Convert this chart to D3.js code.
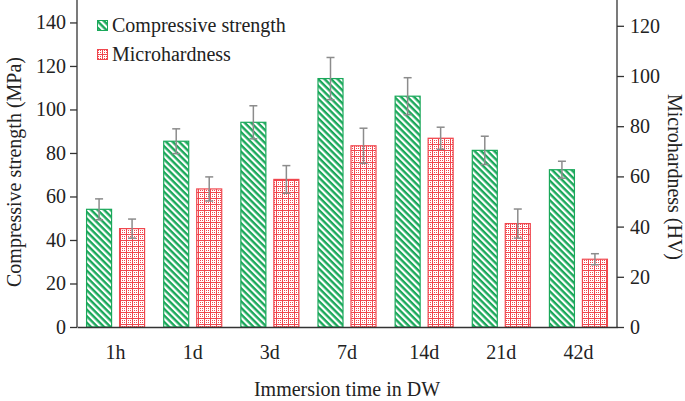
<!DOCTYPE html>
<html><head><meta charset="utf-8">
<script src="https://cdn.jsdelivr.net/npm/d3@7"></script>
<style>body{margin:0;background:#fff}svg{display:block}</style>
</head><body>
<svg id="c" width="685" height="401"></svg>
<script>
const categories = ["1h","1d","3d","7d","14d","21d","42d"];
const strength = [54.1, 85.4, 94.1, 114.2, 106.1, 81.2, 72.3];
const strengthErr = [4.8, 5.7, 7.6, 9.7, 8.5, 6.5, 3.9];
const hardness = [39.2, 55.0, 58.8, 72.2, 75.2, 41.2, 27.0];
const hardnessErr = [3.8, 4.8, 5.5, 7.0, 4.4, 5.8, 2.2];
const leftTicks = [0,20,40,60,80,100,120,140];
const rightTicks = [0,20,40,60,80,100,120];

const svg = d3.select("#c");
const font = "Liberation Serif";
const green = "#1aa85a", red = "#f0474e";
const X0 = 77, X1 = 617, Y0 = 327, Y1 = 0.7;
const fs = 20;

const defs = svg.append("defs");
const pg = defs.append("pattern").attr("id","pg").attr("patternUnits","userSpaceOnUse")
  .attr("width",4.6).attr("height",4.6).attr("patternTransform","rotate(45)");
pg.append("rect").attr("width",4.6).attr("height",4.6).attr("fill","#fff");
pg.append("rect").attr("width",4.6).attr("height",2.4).attr("fill",green);
const pr = defs.append("pattern").attr("id","pr").attr("patternUnits","userSpaceOnUse")
  .attr("width",6).attr("height",6);
pr.append("rect").attr("width",6).attr("height",6).attr("fill","#fff");
pr.append("path").attr("d","M0,0H6V1H0Z M0,0H1V6H0Z").attr("fill",red);
[[2,2],[4,2],[2,4],[4,4]].forEach(p=>pr.append("rect").attr("x",p[0]).attr("y",p[1]).attr("width",1).attr("height",1).attr("fill",red));

const x = d3.scaleBand().domain(categories).range([X0, X1]);
const yL = d3.scaleLinear().domain([0,150]).range([Y0, Y1]);
const yR = d3.scaleLinear().domain([0,130]).range([Y0, Y1]);
const bw = 26, off = 16.5;

const g = svg.append("g");
categories.forEach((c,i)=>{
  const cx = x(c) + x.bandwidth()/2;
  g.append("rect").attr("x", cx-off-bw/2+0.5).attr("y", yL(strength[i]))
    .attr("width", bw-1).attr("height", Y0 - yL(strength[i]))
    .attr("fill","url(#pg)").attr("stroke",green).attr("stroke-width",1.2);
  g.append("rect").attr("x", cx+off-bw/2+0.5).attr("y", yR(hardness[i]))
    .attr("width", bw-1).attr("height", Y0 - yR(hardness[i]))
    .attr("fill","url(#pr)").attr("stroke",red).attr("stroke-width",1.2);
});
function err(cx, scale, v, e){
  const e1 = scale(v+e), e2 = scale(v-e);
  const gg = svg.append("g").attr("stroke","#8c8c8c").attr("stroke-width",1.5);
  gg.append("line").attr("x1",cx).attr("x2",cx).attr("y1",e1).attr("y2",e2);
  gg.append("line").attr("x1",cx-4).attr("x2",cx+4).attr("y1",e1).attr("y2",e1);
  gg.append("line").attr("x1",cx-4).attr("x2",cx+4).attr("y1",e2).attr("y2",e2);
}
categories.forEach((c,i)=>{
  const cx = x(c) + x.bandwidth()/2;
  err(cx-off, yL, strength[i], strengthErr[i]);
  err(cx+off, yR, hardness[i], hardnessErr[i]);
});

const axL = svg.append("g").attr("transform",`translate(${X0},0)`)
  .call(d3.axisLeft(yL).tickValues(leftTicks).tickSize(7).tickPadding(4));
const axR = svg.append("g").attr("transform",`translate(${X1},0)`)
  .call(d3.axisRight(yR).tickValues(rightTicks).tickSize(7).tickPadding(6));
[axL, axR].forEach(a=>{
  a.attr("font-family",font).attr("font-size",fs);
  a.selectAll("path,line").attr("stroke","#333").attr("stroke-width",1.3);
  a.selectAll("text").attr("fill","#222");
});
axL.select("path").attr("d",`M0,${Y0}V0`);
axR.select("path").attr("d",`M0,${Y0}V0`);
const axB = svg.append("g").attr("transform",`translate(0,${Y0})`)
  .call(d3.axisBottom(x).tickSize(0).tickPadding(18));
axB.attr("font-family",font).attr("font-size",fs);
axB.select("path").attr("stroke","#333").attr("stroke-width",1.5);
axB.selectAll("text").attr("fill","#222");

function label(t){ return t.attr("font-family",font).attr("font-size",fs).attr("fill","#222"); }
label(svg.append("text").attr("transform","translate(21,172) rotate(-90)").attr("text-anchor","middle")
  .text("Compressive strength (MPa)"));
label(svg.append("text").attr("transform","translate(668,177) rotate(90)").attr("text-anchor","middle")
  .text("Microhardness (HV)"));
label(svg.append("text").attr("x",347).attr("y",396).attr("text-anchor","middle")
  .text("Immersion time in DW"));

const leg = [["Compressive strength","url(#pg)",green],["Microhardness","url(#pr)",red]];
leg.forEach((d,i)=>{
  const yy = 20 + i*29;
  svg.append("rect").attr("x",97.5).attr("y",yy+0.5).attr("width",10).attr("height",10)
    .attr("fill",d[1]).attr("stroke",d[2]).attr("stroke-width",1);
  label(svg.append("text").attr("x",112).attr("y",yy+11.5).text(d[0]));
});
</script>
</body></html>
